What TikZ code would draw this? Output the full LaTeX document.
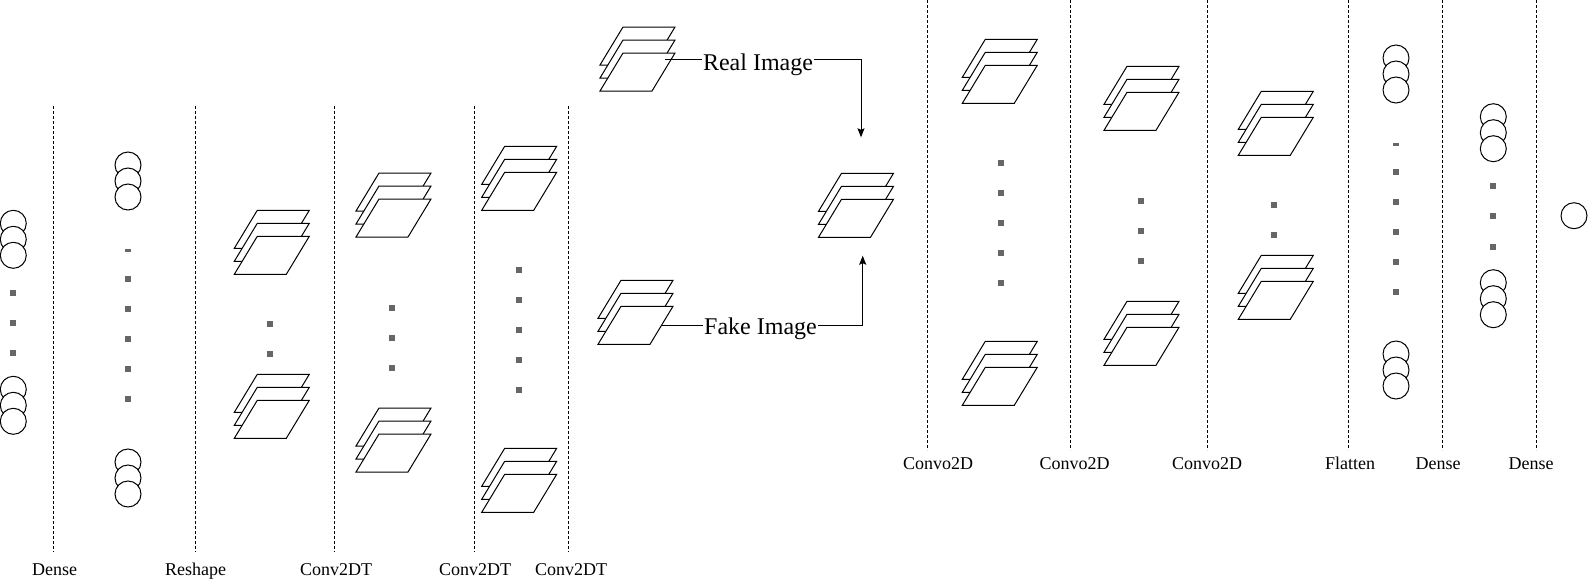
\documentclass[tikz,border=0pt]{standalone}
\usepackage{fontspec}
\setmainfont{Liberation Serif}
\usetikzlibrary{arrows.meta}
\definecolor{dotgray}{RGB}{102,102,102}
\begin{document}
\begin{tikzpicture}[x=1pt,y=-1pt,
  neuron/.style={circle, fill=white, draw=black, line width=1pt, minimum size=26pt, inner sep=0pt},
  sheet/.style={fill=white, draw=black, line width=1pt},
  gap/.style={rectangle, fill=dotgray, minimum width=6pt, minimum height=6pt, inner sep=0pt},
  halfgap/.style={rectangle, fill=dotgray, minimum width=6pt, minimum height=3pt, inner sep=0pt},
  layer/.style={draw=black, line width=0.8pt, dash pattern=on 3pt off 2pt},
  lbl/.style={font=\fontsize{18}{20}\selectfont, inner sep=0pt, anchor=base},
  flow/.style={font=\fontsize{24}{26}\selectfont, fill=white, inner sep=1.5pt, anchor=base},
  link/.style={draw=black, line width=1pt, -{Stealth[length=9pt,width=7pt,inset=1.5pt]}}]
\useasboundingbox (0,0) rectangle (1588,582);
% layer borders, generator
\draw[layer] (53.7,106) -- (53.7,552);
\draw[layer] (195.5,106) -- (195.5,552);
\draw[layer] (334,106) -- (334,552);
\draw[layer] (474,106) -- (474,552);
\draw[layer] (568,106) -- (568,552);
% layer borders, discriminator
\draw[layer] (927,0) -- (927,450);
\draw[layer] (1070.5,0) -- (1070.5,450);
\draw[layer] (1207,0) -- (1207,450);
\draw[layer] (1348,0) -- (1348,450);
\draw[layer] (1442,0) -- (1442,450);
\draw[layer] (1536,0) -- (1536,450);
% layer names
\node[lbl] (nDense) at (54.7,575) {Dense};
\node[lbl] (nReshape) at (195.5,575) {Reshape};
\node[lbl] (nConvA) at (336,575) {Conv2DT};
\node[lbl] (nConvB) at (475,575) {Conv2DT};
\node[lbl] (nConvC) at (571,575) {Conv2DT};
\node[lbl] (nConvoA) at (938,469) {Convo2D};
\node[lbl] (nConvoB) at (1074.6,469) {Convo2D};
\node[lbl] (nConvoC) at (1207,469) {Convo2D};
\node[lbl] (nFlatten) at (1350,469) {Flatten};
\node[lbl] (nDenseA) at (1438,469) {Dense};
\node[lbl] (nDenseB) at (1531,469) {Dense};
% noise input
\node[neuron] at (13.3,223.3) {};
\node[neuron] at (13.3,239.3) {};
\node[neuron] at (13.3,255.3) {};
\node[gap] at (13.3,293) {};
\node[gap] at (13.3,323) {};
\node[gap] at (13.3,353) {};
\node[neuron] at (13.3,389.3) {};
\node[neuron] at (13.3,405.3) {};
\node[neuron] at (13.3,421.3) {};
% dense
\node[neuron] at (128,165) {};
\node[neuron] at (128,181) {};
\node[neuron] at (128,197) {};
\node[halfgap] at (128,250.7) {};
\node[gap] at (128,279.3) {};
\node[gap] at (128,309.3) {};
\node[gap] at (128,339.3) {};
\node[gap] at (128,369.3) {};
\node[gap] at (128,399.3) {};
\node[neuron] at (128,462) {};
\node[neuron] at (128,478) {};
\node[neuron] at (128,494) {};
% reshape
\draw[sheet] (234.3,248.3) -- ++(52,0) -- ++(23,-38) -- ++(-52,0) -- cycle;
\draw[sheet] (234.3,261.3) -- ++(52,0) -- ++(23,-38) -- ++(-52,0) -- cycle;
\draw[sheet] (234.3,274.3) -- ++(52,0) -- ++(23,-38) -- ++(-52,0) -- cycle;
\node[gap] at (270,324.3) {};
\node[gap] at (270,354.3) {};
\draw[sheet] (234.3,412.3) -- ++(52,0) -- ++(23,-38) -- ++(-52,0) -- cycle;
\draw[sheet] (234.3,425.3) -- ++(52,0) -- ++(23,-38) -- ++(-52,0) -- cycle;
\draw[sheet] (234.3,438.3) -- ++(52,0) -- ++(23,-38) -- ++(-52,0) -- cycle;
% conv2dt 1
\draw[sheet] (356,211) -- ++(52,0) -- ++(23,-38) -- ++(-52,0) -- cycle;
\draw[sheet] (356,224) -- ++(52,0) -- ++(23,-38) -- ++(-52,0) -- cycle;
\draw[sheet] (356,237) -- ++(52,0) -- ++(23,-38) -- ++(-52,0) -- cycle;
\node[gap] at (392,308.3) {};
\node[gap] at (392,338.3) {};
\node[gap] at (392,368.3) {};
\draw[sheet] (356,446) -- ++(52,0) -- ++(23,-38) -- ++(-52,0) -- cycle;
\draw[sheet] (356,459) -- ++(52,0) -- ++(23,-38) -- ++(-52,0) -- cycle;
\draw[sheet] (356,472) -- ++(52,0) -- ++(23,-38) -- ++(-52,0) -- cycle;
% conv2dt 2
\draw[sheet] (481.7,184.3) -- ++(52,0) -- ++(23,-38) -- ++(-52,0) -- cycle;
\draw[sheet] (481.7,197.3) -- ++(52,0) -- ++(23,-38) -- ++(-52,0) -- cycle;
\draw[sheet] (481.7,210.3) -- ++(52,0) -- ++(23,-38) -- ++(-52,0) -- cycle;
\node[gap] at (519.3,270.3) {};
\node[gap] at (519.3,300.3) {};
\node[gap] at (519.3,330.3) {};
\node[gap] at (519.3,360.3) {};
\node[gap] at (519.3,390.3) {};
\draw[sheet] (481.7,486.3) -- ++(52,0) -- ++(23,-38) -- ++(-52,0) -- cycle;
\draw[sheet] (481.7,499.3) -- ++(52,0) -- ++(23,-38) -- ++(-52,0) -- cycle;
\draw[sheet] (481.7,512.3) -- ++(52,0) -- ++(23,-38) -- ++(-52,0) -- cycle;
% real and fake images
\draw[sheet] (600,65) -- ++(52,0) -- ++(23,-38) -- ++(-52,0) -- cycle;
\draw[sheet] (600,78) -- ++(52,0) -- ++(23,-38) -- ++(-52,0) -- cycle;
\draw[sheet] (600,91) -- ++(52,0) -- ++(23,-38) -- ++(-52,0) -- cycle;
\draw[sheet] (598,318.3) -- ++(52,0) -- ++(23,-38) -- ++(-52,0) -- cycle;
\draw[sheet] (598,331.3) -- ++(52,0) -- ++(23,-38) -- ++(-52,0) -- cycle;
\draw[sheet] (598,344.3) -- ++(52,0) -- ++(23,-38) -- ++(-52,0) -- cycle;
% discriminator input
\draw[sheet] (818.5,211.3) -- ++(52,0) -- ++(23,-38) -- ++(-52,0) -- cycle;
\draw[sheet] (818.5,224.3) -- ++(52,0) -- ++(23,-38) -- ++(-52,0) -- cycle;
\draw[sheet] (818.5,237.3) -- ++(52,0) -- ++(23,-38) -- ++(-52,0) -- cycle;
% connectors
\coordinate (realout) at (665,59.3);
\coordinate (realturn) at (861,59.3);
\coordinate (mergetop) at (861,137.3);
\coordinate (fakeout) at (662,325);
\coordinate (faketurn) at (862.7,325);
\coordinate (mergebot) at (862.7,255.7);
\draw[link] (realout) -- (realturn) -- (mergetop);
\draw[link] (fakeout) -- (faketurn) -- (mergebot);
\node[flow] (reallbl) at (758,70.5) {Real Image};
\node[flow] (fakelbl) at (760.5,334.5) {Fake Image};
% convo2d 1
\draw[sheet] (962.3,77.3) -- ++(52,0) -- ++(23,-38) -- ++(-52,0) -- cycle;
\draw[sheet] (962.3,90.3) -- ++(52,0) -- ++(23,-38) -- ++(-52,0) -- cycle;
\draw[sheet] (962.3,103.3) -- ++(52,0) -- ++(23,-38) -- ++(-52,0) -- cycle;
\node[gap] at (1000.7,163.3) {};
\node[gap] at (1000.7,193.3) {};
\node[gap] at (1000.7,223.3) {};
\node[gap] at (1000.7,253.3) {};
\node[gap] at (1000.7,283.3) {};
\draw[sheet] (962.3,379.3) -- ++(52,0) -- ++(23,-38) -- ++(-52,0) -- cycle;
\draw[sheet] (962.3,392.3) -- ++(52,0) -- ++(23,-38) -- ++(-52,0) -- cycle;
\draw[sheet] (962.3,405.3) -- ++(52,0) -- ++(23,-38) -- ++(-52,0) -- cycle;
% convo2d 2
\draw[sheet] (1104,104.3) -- ++(52,0) -- ++(23,-38) -- ++(-52,0) -- cycle;
\draw[sheet] (1104,117.3) -- ++(52,0) -- ++(23,-38) -- ++(-52,0) -- cycle;
\draw[sheet] (1104,130.3) -- ++(52,0) -- ++(23,-38) -- ++(-52,0) -- cycle;
\node[gap] at (1140.7,201.3) {};
\node[gap] at (1140.7,231.3) {};
\node[gap] at (1140.7,261.3) {};
\draw[sheet] (1104,339.3) -- ++(52,0) -- ++(23,-38) -- ++(-52,0) -- cycle;
\draw[sheet] (1104,352.3) -- ++(52,0) -- ++(23,-38) -- ++(-52,0) -- cycle;
\draw[sheet] (1104,365.3) -- ++(52,0) -- ++(23,-38) -- ++(-52,0) -- cycle;
% convo2d 3
\draw[sheet] (1238.3,129.3) -- ++(52,0) -- ++(23,-38) -- ++(-52,0) -- cycle;
\draw[sheet] (1238.3,142.3) -- ++(52,0) -- ++(23,-38) -- ++(-52,0) -- cycle;
\draw[sheet] (1238.3,155.3) -- ++(52,0) -- ++(23,-38) -- ++(-52,0) -- cycle;
\node[gap] at (1274.3,205.3) {};
\node[gap] at (1274.3,235.3) {};
\draw[sheet] (1238.3,293.3) -- ++(52,0) -- ++(23,-38) -- ++(-52,0) -- cycle;
\draw[sheet] (1238.3,306.3) -- ++(52,0) -- ++(23,-38) -- ++(-52,0) -- cycle;
\draw[sheet] (1238.3,319.3) -- ++(52,0) -- ++(23,-38) -- ++(-52,0) -- cycle;
% flatten
\node[neuron] at (1396,58) {};
\node[neuron] at (1396,74) {};
\node[neuron] at (1396,90) {};
\node[halfgap] at (1396,144) {};
\node[gap] at (1396,172.3) {};
\node[gap] at (1396,202.3) {};
\node[gap] at (1396,232.3) {};
\node[gap] at (1396,262.3) {};
\node[gap] at (1396,292.3) {};
\node[neuron] at (1396,354) {};
\node[neuron] at (1396,370) {};
\node[neuron] at (1396,386) {};
% dense
\node[neuron] at (1493.3,116.7) {};
\node[neuron] at (1493.3,132.7) {};
\node[neuron] at (1493.3,148.7) {};
\node[gap] at (1493.3,186) {};
\node[gap] at (1493.3,216) {};
\node[gap] at (1493.3,246.7) {};
\node[neuron] at (1493.3,282.7) {};
\node[neuron] at (1493.3,298.7) {};
\node[neuron] at (1493.3,314.7) {};
% output
\node[neuron] (out) at (1574,215.7) {};
\end{tikzpicture}
\end{document}
